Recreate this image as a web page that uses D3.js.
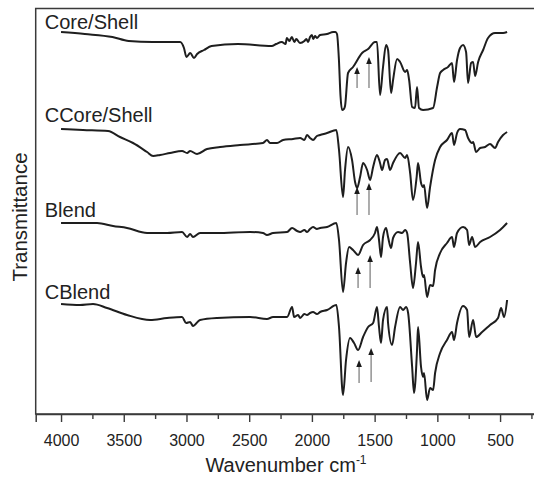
<!DOCTYPE html>
<html>
<head>
<meta charset="utf-8">
<script src="https://cdn.jsdelivr.net/npm/d3@7"></script>
<style>
  html, body { margin: 0; padding: 0; background: #fff; }
  svg { display: block; }
  text { font-family: "Liberation Sans", Arial, Helvetica, sans-serif; fill: #222; }
</style>
</head>
<body>
<svg id="chart" width="534" height="478"></svg>
<script>
// ---- Data: [wavenumber (cm-1), transmittance (arbitrary, offset-stacked units)] ----
const seriesNames = ["Core/Shell", "CCore/Shell", "Blend", "CBlend"];

const coreShell = [
  [4000,382],[3810,380],[3590,377],[3460,373],[3270,372],[3050,372],[3020,366],[3000,357],
  [2970,361],[2940,356],[2915,360],[2860,364],[2800,368],[2590,370],[2320,368],[2285,370],
  [2240,372],[2210,370],[2200,376],[2180,373],[2160,377],[2140,372],[2125,375],[2095,371],
  [2060,373],[2045,375],[2030,372],[2015,377],[2000,379],[1990,375],[1975,378],[1960,376],
  [1935,379],[1880,380],[1830,382],[1812,382],[1800,380],[1785,355],
  [1772,318],[1760,304],[1745,305],[1736,308],[1712,341],[1672,347],[1600,361],[1552,365],
  [1497,372],[1481,372],[1457,319],[1433,347],[1409,369],[1393,364],[1369,321],[1353,334],
  [1321,355],[1297,352],[1257,342],[1241,344],[1225,334],[1201,307],[1178,306],[1162,327],
  [1146,306],[1114,304],[1034,306],[1002,327],[978,341],[954,344],[915,347],[883,351],
  [867,332],[843,354],[819,366],[795,369],[771,362],[755,331],[731,351],[715,352],
  [699,338],[675,352],[635,364],[596,376],[540,381],[476,381],[444,382]
];

const cCoreShell = [
  [4000,285],[3825,284],[3625,283],[3530,277],[3426,271],[3314,262],[3266,258],[3211,259],
  [3131,261],[3035,263],[2995,261],[2971,263],[2916,260],[2836,265],[2732,267],[2573,269],
  [2390,271],[2358,274],[2334,271],[2278,271],[2230,274],[2150,275],[2094,276],[2060,274],
  [2039,279],[2015,276],[1991,274],[1960,278],[1935,279],[1879,281],[1805,284],[1784,264],
  [1752,217],[1736,244],[1712,267],
  [1680,254],[1656,232],[1640,226],[1616,237],[1592,251],[1560,244],[1536,234],[1512,247],
  [1481,259],[1457,251],[1441,244],[1417,254],[1401,255],[1377,244],[1353,251],[1297,261],
  [1257,256],[1241,259],[1217,241],[1194,214],[1165,237],[1154,251],[1130,231],[1114,227],
  [1106,229],[1082,206],[1058,227],[1018,254],[978,267],[923,274],[883,281],[867,269],
  [843,281],[819,285],[779,284],[755,276],[723,271],[715,272],[691,262],[659,266],
  [619,267],[580,270],[540,266],[516,272],[476,279],[444,282]
];

const blend = [
  [4000,191],[3825,191],[3713,191],[3585,188],[3474,186],[3314,181],[3155,181],[3035,182],
  [2995,177],[2971,180],[2948,177],[2892,181],[2756,181],[2493,182],[2390,181],[2358,179],
  [2310,181],[2198,182],[2158,186],[2118,183],[2094,182],[2060,184],[2039,182],[2015,185],
  [1991,187],[1960,185],[1935,186],[1879,187],[1805,191],[1784,174],[1752,122],[1728,151],
  [1704,167],[1672,164],[1632,159],
  [1592,169],[1536,174],[1497,181],[1481,187],[1465,174],[1449,157],[1433,177],[1409,186],
  [1393,177],[1369,166],[1353,176],[1313,182],[1281,181],[1257,184],[1241,181],[1217,151],
  [1194,126],[1170,151],[1154,172],[1130,147],[1114,137],[1106,139],[1082,117],[1058,129],
  [1034,128],[1018,144],[978,161],[923,171],[883,177],[867,167],[843,181],[795,187],
  [763,184],[747,169],[723,177],[699,167],[659,172],[580,177],[500,184],[444,191]
];

const cBlend = [
  [4000,110],[3849,109],[3745,110],[3633,106],[3474,99],[3290,94],[3155,96],[3035,97],
  [3003,91],[2971,92],[2948,88],[2892,94],[2756,96],[2493,97],[2358,95],[2310,97],
  [2198,97],[2158,107],[2142,97],[2110,99],[2094,96],[2060,100],[2039,99],[2015,101],
  [1991,102],[1960,100],[1935,102],[1879,104],[1805,109],[1784,87],[1752,19],[1728,54],
  [1696,76],[1664,71],[1632,64],
  [1592,77],[1552,87],[1512,91],[1481,107],[1465,87],[1449,71],[1433,94],[1401,107],
  [1393,91],[1361,69],[1337,87],[1297,107],[1273,104],[1249,107],[1233,101],[1201,47],
  [1186,21],[1162,64],[1154,87],[1130,47],[1114,37],[1106,41],[1082,14],[1058,26],
  [1034,24],[1018,41],[978,61],[923,74],[883,82],[867,74],[843,91],[795,108],
  [763,104],[747,77],[715,94],[691,77],[643,82],[580,89],[516,96],[492,106],
  [468,97],[444,114]
];

const allSeries = [coreShell, cCoreShell, blend, cBlend];

// Series label anchors: [wavenumber, value]
const labelPos = [[4130,385],[4130,292],[4130,197],[4130,115]];

// Arrow annotations per series: [wavenumber, tailValue, headValue]
const arrows = [
  [[1640,326,347],[1545,326,357]],
  [[1640,199,227],[1545,199,231]],
  [[1632,126,147],[1536,126,159]],
  [[1624,31,54],[1528,32,66]]
];

const majorTicks = [4000,3500,3000,2500,2000,1500,1000,500];
const minorTicks = [3750,3250,2750,2250,1750,1250,750,250];

// ---- Layout ----
const svg = d3.select("#chart");
const x = d3.scaleLinear().domain([4202, 196]).range([35.7, 538.2]);
const y = d3.scaleLinear().domain([0, 405.5]).range([414, 8.5]);

// Frame
svg.append("rect")
  .attr("x", x.range()[0]).attr("y", y.range()[1])
  .attr("width", x.range()[1] - x.range()[0])
  .attr("height", y.range()[0] - y.range()[1])
  .attr("fill", "none").attr("stroke", "#3a3a3a").attr("stroke-width", 1.5);

// Bottom axis (major)
const axis = d3.axisBottom(x).tickValues(majorTicks).tickSize(8).tickPadding(13)
  .tickFormat(d3.format("d"));
const gx = svg.append("g").attr("transform", `translate(0,${y.range()[0]})`).call(axis);
gx.select(".domain").attr("stroke", "#3a3a3a").attr("stroke-width", 1.5);
gx.selectAll(".tick line").attr("stroke", "#3a3a3a").attr("stroke-width", 1.4);
gx.selectAll(".tick text").attr("font-size", 16).attr("fill", "#222")
  .style("font-family", "'Liberation Sans', Arial, sans-serif");

// Minor ticks
const axisMinor = d3.axisBottom(x).tickValues(minorTicks).tickSize(5).tickFormat("");
const gm = svg.append("g").attr("transform", `translate(0,${y.range()[0]})`).call(axisMinor);
gm.select(".domain").remove();
gm.selectAll(".tick line").attr("stroke", "#3a3a3a").attr("stroke-width", 1.4);

// Axis titles
const xt = svg.append("text")
  .attr("x", 286).attr("y", 472)
  .attr("text-anchor", "middle").attr("font-size", 20);
xt.append("tspan").text("Wavenumber cm");
xt.append("tspan").attr("font-size", 12).attr("dy", -8).text("-1");

svg.append("text")
  .attr("transform", "translate(27,217) rotate(-90)")
  .attr("text-anchor", "middle").attr("font-size", 20.5)
  .text("Transmittance");

// Spectra
const line = d3.line()
  .x(d => x(d[0])).y(d => y(d[1]))
  .curve(d3.curveMonotoneX);

allSeries.forEach(s => {
  svg.append("path").datum(s)
    .attr("d", line)
    .attr("fill", "none").attr("stroke", "#1e1e1e")
    .attr("stroke-width", 2).attr("stroke-linejoin", "round");
});

// Series labels
seriesNames.forEach((name, i) => {
  svg.append("text")
    .attr("x", x(labelPos[i][0])).attr("y", y(labelPos[i][1]))
    .attr("font-size", 20).text(name);
});

// Arrows
arrows.forEach(group => {
  group.forEach(a => {
    const ax = x(a[0]), y0 = y(a[1]), y1 = y(a[2]);
    svg.append("line")
      .attr("x1", ax).attr("x2", ax).attr("y1", y0).attr("y2", y1 + 5)
      .attr("stroke", "#8a8a8a").attr("stroke-width", 1.4);
    svg.append("path")
      .attr("d", `M${ax},${y1} L${ax - 2.8},${y1 + 7} L${ax + 2.8},${y1 + 7} Z`)
      .attr("fill", "#1a1a1a");
  });
});
</script>
</body>
</html>
